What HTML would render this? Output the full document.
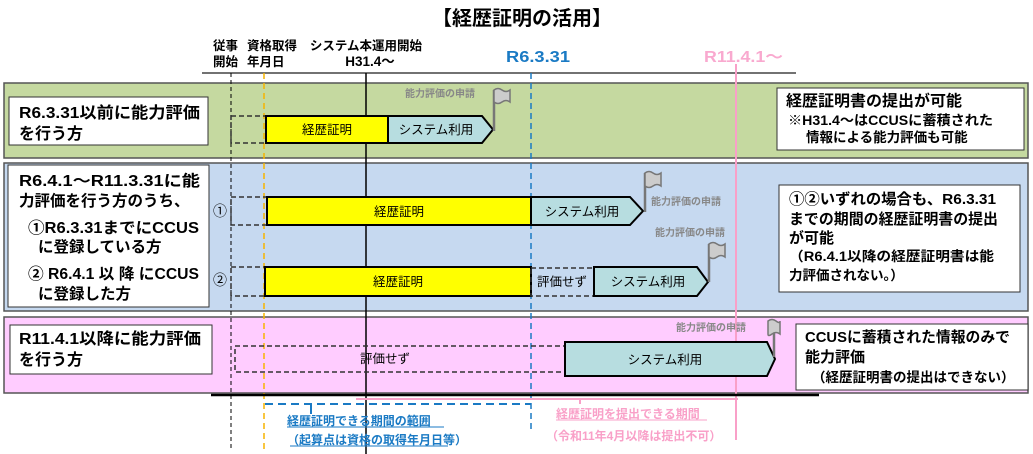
<!DOCTYPE html>
<html><head><meta charset="utf-8"><style>
html,body{margin:0;padding:0;background:#fff;}
svg{display:block;font-family:"Liberation Sans","Noto Sans CJK JP",sans-serif;}
.b{font-weight:bold;}
</style></head><body>
<svg width="1033" height="454" viewBox="0 0 1033 454" xmlns="http://www.w3.org/2000/svg">
<text x="522" y="25" text-anchor="middle" font-size="20" class="b" fill="#000">【経歴証明の活用】</text>
<g font-size="12.5" class="b" fill="#000">
<text x="213" y="50">従事</text><text x="213" y="66">開始</text>
<text x="247" y="50">資格取得</text><text x="247" y="66">年月日</text>
<text x="366" y="50" text-anchor="middle">システム本運用開始</text>
<text x="370" y="66" text-anchor="middle" font-size="13.5">H31.4～</text>
</g>
<text x="506" y="62" font-size="15.5" class="b" fill="#1a7ac4" textLength="64" lengthAdjust="spacingAndGlyphs">R6.3.31</text>
<text x="704" y="62" font-size="15.5" class="b" fill="#f9a9cf" textLength="79" lengthAdjust="spacingAndGlyphs">R11.4.1～</text>
<line x1="202" y1="73" x2="796" y2="73" stroke="#444" stroke-width="1.5"/>

<rect x="4" y="83" width="1024" height="75" fill="#c5d9a0" stroke="#555" stroke-width="1.5"/>
<rect x="4" y="163" width="1024" height="148" fill="#c6d9f0" stroke="#555" stroke-width="1.5"/>
<rect x="4" y="317" width="1024" height="76" fill="#ffccff" stroke="#555" stroke-width="1.5"/>

<line x1="231" y1="73" x2="231" y2="450" stroke="#000" stroke-width="1" stroke-dasharray="4,3"/>
<line x1="264" y1="73" x2="264" y2="450" stroke="#f5b400" stroke-width="1.5" stroke-dasharray="6,4"/>
<line x1="366" y1="73" x2="366" y2="454" stroke="#000" stroke-width="1.5"/>
<line x1="531" y1="73" x2="531" y2="433" stroke="#1a7ac4" stroke-width="1.5" stroke-dasharray="6,4"/>
<line x1="736" y1="64" x2="736" y2="440" stroke="#f9a0c8" stroke-width="2"/>

<rect x="9" y="97" width="199" height="48" fill="#fff" stroke="#333"/>
<text x="19" y="118" font-size="16" class="b" textLength="181" lengthAdjust="spacingAndGlyphs">R6.3.31以前に能力評価</text>
<text x="19" y="139" font-size="16" class="b">を行う方</text>

<rect x="8" y="165" width="201" height="142" fill="#fff" stroke="#333"/>
<g font-size="15.5" class="b">
<text x="19" y="186" textLength="181" lengthAdjust="spacingAndGlyphs">R6.4.1～R11.3.31に能</text>
<text x="19" y="206">力評価を行う方のうち、</text>
<text x="28" y="233" textLength="171" lengthAdjust="spacingAndGlyphs">①R6.3.31までにCCUS</text>
<text x="38" y="252">に登録している方</text>
<text x="28" y="279" textLength="171" lengthAdjust="spacingAndGlyphs">② R6.4.1 以 降 にCCUS</text>
<text x="38" y="299">に登録した方</text>
</g>

<rect x="10" y="325" width="202" height="49" fill="#fff" stroke="#333"/>
<text x="19" y="344" font-size="16" class="b" textLength="182" lengthAdjust="spacingAndGlyphs">R11.4.1以降に能力評価</text>
<text x="19" y="365" font-size="16" class="b">を行う方</text>

<rect x="777" y="88" width="247" height="62" fill="#fff" stroke="#333"/>
<text x="786" y="106" font-size="15.5" class="b" textLength="176" lengthAdjust="spacingAndGlyphs">経歴証明書の提出が可能</text>
<text x="788" y="125" font-size="13.5" class="b" textLength="205" lengthAdjust="spacingAndGlyphs">※H31.4～はCCUSに蓄積された</text>
<text x="806" y="142" font-size="13.5" class="b">情報による能力評価も可能</text>

<rect x="779" y="185" width="241" height="107" fill="#fff" stroke="#333"/>
<g font-size="15" class="b">
<text x="789" y="204" textLength="207" lengthAdjust="spacingAndGlyphs">①②いずれの場合も、R6.3.31</text>
<text x="789" y="224" textLength="209" lengthAdjust="spacingAndGlyphs">までの期間の経歴証明書の提出</text>
<text x="789" y="243">が可能</text>
</g>
<g font-size="13.5" class="b">
<text x="789" y="261" textLength="205" lengthAdjust="spacingAndGlyphs">（R6.4.1以降の経歴証明書は能</text>
<text x="789" y="280">力評価されない。）</text>
</g>

<rect x="796" y="324" width="232" height="66" fill="#fff" stroke="#333"/>
<text x="805" y="342" font-size="15" class="b" textLength="205" lengthAdjust="spacingAndGlyphs">CCUSに蓄積された情報のみで</text>
<text x="805" y="362" font-size="15" class="b">能力評価</text>
<text x="812" y="382" font-size="13.5" class="b">（経歴証明書の提出はできない）</text>

<rect x="231" y="116" width="35" height="27" fill="none" stroke="#333" stroke-width="1.5" stroke-dasharray="5,3"/>
<rect x="266" y="116" width="122" height="27" fill="#ffff00" stroke="#000" stroke-width="2"/>
<text x="327" y="134" text-anchor="middle" font-size="12.5">経歴証明</text>
<polygon points="388,116 482,116 493,129.5 482,143 388,143" fill="#b7dde0" stroke="#000" stroke-width="2"/>
<text x="436" y="134" text-anchor="middle" font-size="12.5">システム利用</text>
<text x="405" y="97" font-size="10" class="b" fill="#888">能力評価の申請</text>
<line x1="494" y1="90" x2="494" y2="131" stroke="#777" stroke-width="2.5"/>
<path d="M494,90 q4,-3 8,0 t8,0 v12 q-4,-3 -8,0 t-8,0z" fill="#ccc" stroke="#777" stroke-width="1.5"/>

<text x="213" y="216" font-size="14">①</text>
<rect x="231" y="197" width="36" height="28" fill="none" stroke="#333" stroke-width="1.5" stroke-dasharray="5,3"/>
<rect x="267" y="197" width="264" height="28" fill="#ffff00" stroke="#000" stroke-width="2"/>
<text x="399" y="216" text-anchor="middle" font-size="12.5">経歴証明</text>
<polygon points="531,197 630,197 643,211 630,225 531,225" fill="#b7dde0" stroke="#000" stroke-width="2"/>
<text x="582" y="216" text-anchor="middle" font-size="12.5">システム利用</text>
<line x1="645" y1="173" x2="645" y2="212" stroke="#777" stroke-width="2.5"/>
<path d="M645,173 q4,-3 8,0 t8,0 v13 q-4,-3 -8,0 t-8,0z" fill="#ccc" stroke="#777" stroke-width="1.5"/>
<text x="651" y="205" font-size="10" class="b" fill="#888">能力評価の申請</text>

<text x="213" y="285" font-size="14">②</text>
<rect x="231" y="267" width="34" height="29" fill="none" stroke="#333" stroke-width="1.5" stroke-dasharray="5,3"/>
<rect x="265" y="267" width="266" height="29" fill="#ffff00" stroke="#000" stroke-width="2"/>
<text x="398" y="286" text-anchor="middle" font-size="12.5">経歴証明</text>
<rect x="531" y="268" width="63" height="28" fill="none" stroke="#333" stroke-width="1.5" stroke-dasharray="5,3"/>
<text x="562" y="286" text-anchor="middle" font-size="12.5">評価せず</text>
<polygon points="594,267 697,267 708,282 697,296 594,296" fill="#b7dde0" stroke="#000" stroke-width="2"/>
<text x="648" y="286" text-anchor="middle" font-size="12.5">システム利用</text>
<line x1="709" y1="244" x2="709" y2="282" stroke="#777" stroke-width="2.5"/>
<path d="M709,244 q4,-3 8,0 t8,0 v13 q-4,-3 -8,0 t-8,0z" fill="#ccc" stroke="#777" stroke-width="1.5"/>
<text x="655" y="236" font-size="10" class="b" fill="#888">能力評価の申請</text>

<rect x="235" y="346" width="330" height="26" fill="none" stroke="#333" stroke-width="1.5" stroke-dasharray="5,3"/>
<text x="385" y="363" text-anchor="middle" font-size="12.5">評価せず</text>
<polygon points="565,342 767,342 775,359 767,376 565,376" fill="#b7dde0" stroke="#000" stroke-width="2"/>
<text x="665" y="364" text-anchor="middle" font-size="12.5">システム利用</text>
<line x1="774" y1="321" x2="774" y2="357" stroke="#777" stroke-width="2.5"/>
<path d="M768,321 q4,-3 8,0 t4,0 v13 q-4,-3 -8,0 t-4,0z" fill="#ccc" stroke="#777" stroke-width="1.5"/>
<text x="676" y="331" font-size="10" class="b" fill="#888">能力評価の申請</text>

<line x1="211" y1="395" x2="819" y2="395" stroke="#000" stroke-width="2.5"/>
<line x1="356" y1="399" x2="738" y2="399" stroke="#f9a0c8" stroke-width="2"/>
<line x1="580" y1="399" x2="580" y2="404" stroke="#f9a0c8" stroke-width="2"/>
<line x1="265" y1="404" x2="531" y2="404" stroke="#1a7ac4" stroke-width="2" stroke-dasharray="8,5"/>
<line x1="311" y1="404" x2="311" y2="414" stroke="#1a7ac4" stroke-width="2"/>
<g font-size="12" class="b" fill="#1a7ac4">
<text x="287" y="425">経歴証明できる期間の範囲</text>
<text x="287" y="444">（起算点は資格の取得年月日等）</text>
</g>
<line x1="287" y1="427" x2="444" y2="427" stroke="#1a7ac4"/>
<line x1="290" y1="446" x2="448" y2="446" stroke="#1a7ac4"/>
<g font-size="12" class="b" fill="#f9a0c8">
<text x="556" y="418">経歴証明を提出できる期間</text>
<text x="546" y="440">（令和11年4月以降は提出不可）</text>
</g>
<line x1="556" y1="420" x2="707" y2="420" stroke="#f9a0c8"/>
</svg>
</body></html>
